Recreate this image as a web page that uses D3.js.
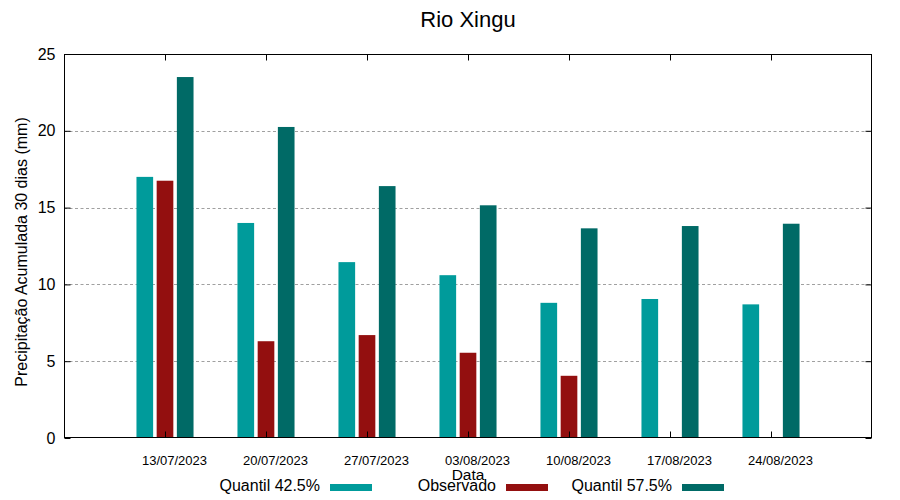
<!DOCTYPE html>
<html>
<head>
<meta charset="utf-8">
<script src="https://cdn.jsdelivr.net/npm/d3@7"></script>
<style>
  body { margin: 0; background: #fff; }
  svg { display: block; }
  text { font-family: "Liberation Sans", Arial, sans-serif; fill: #000; }
</style>
</head>
<body>
<svg id="chart" width="900" height="500"></svg>
<script>
const dates = ["13/07/2023", "20/07/2023", "27/07/2023", "03/08/2023", "10/08/2023", "17/08/2023", "24/08/2023"];
const quantil425 = [17.0, 14.0, 11.45, 10.6, 8.8, 9.05, 8.7];
const observado = [16.75, 6.3, 6.7, 5.55, 4.05, null, null];
const quantil575 = [23.5, 20.25, 16.4, 15.15, 13.65, 13.8, 13.95];
const yTicks = [0, 5, 10, 15, 20, 25];
const seriesNames = ["Quantil 42.5%", "Observado", "Quantil 57.5%"];
const seriesColors = ["#009b9b", "#930f0f", "#006a66"];

const svg = d3.select("#chart");
const L = 64, R = 872, T = 54, B = 438;

const x = d3.scaleLinear().domain([-1, 7]).range([L, R]);
const y = d3.scaleLinear().domain([0, 25]).range([B, T]);

// gridlines
svg.append("g").selectAll("line")
  .data(yTicks.filter(d => d > 0 && d < 25))
  .join("line")
  .attr("x1", L).attr("x2", R)
  .attr("y1", d => Math.round(y(d)) + 0.5).attr("y2", d => Math.round(y(d)) + 0.5)
  .attr("stroke", "#a0a0a0").attr("stroke-width", 1)
  .attr("stroke-dasharray", "3,2.5");

// bars
const series = [quantil425, observado, quantil575];
const offsets = [-0.2, 0, 0.2];
const barW = 0.165;
series.forEach((vals, si) => {
  svg.append("g").selectAll("rect")
    .data(vals.map((v, i) => ({ i, v })).filter(d => d.v != null))
    .join("rect")
    .attr("x", d => x(d.i + offsets[si] - barW / 2))
    .attr("width", x(barW) - x(0))
    .attr("y", d => y(d.v))
    .attr("height", d => y(0) - y(d.v))
    .attr("fill", seriesColors[si]);
});

// axes
const yLeft = svg.append("g").attr("transform", `translate(${L + 0.5},0)`)
  .call(d3.axisLeft(y).tickValues(yTicks).tickSize(-6).tickPadding(9));
yLeft.select(".domain").remove();
yLeft.selectAll("text").style("font-size", "16px").style("font-family", "'Liberation Sans', Arial, sans-serif");

const yRight = svg.append("g").attr("transform", `translate(${R - 0.5},0)`)
  .call(d3.axisRight(y).tickValues(yTicks).tickSize(-6).tickFormat(""));
yRight.select(".domain").remove();

const xBottom = svg.append("g").attr("transform", `translate(0,${B - 0.5})`)
  .call(d3.axisBottom(x).tickValues(d3.range(dates.length)).tickSize(-6).tickFormat(i => dates[i]));
xBottom.select(".domain").remove();
xBottom.selectAll("text")
  .attr("x", 9).attr("y", 27).attr("dy", 0)
  .style("font-size", "13px").style("font-family", "'Liberation Sans', Arial, sans-serif");

const xTop = svg.append("g").attr("transform", `translate(0,${T + 0.5})`)
  .call(d3.axisTop(x).tickValues(d3.range(dates.length)).tickSize(-6).tickFormat(""));
xTop.select(".domain").remove();

// border
svg.append("rect")
  .attr("x", L + 0.5).attr("y", T + 0.5)
  .attr("width", R - L - 1).attr("height", B - T - 1)
  .attr("fill", "none").attr("stroke", "#000").attr("stroke-width", 1);

// title
svg.append("text").attr("x", (L + R) / 2).attr("y", 27)
  .attr("text-anchor", "middle").style("font-size", "22px").text("Rio Xingu");

// y label
svg.append("text")
  .attr("transform", `translate(27,${(T + B) / 2 + 6}) rotate(-90)`)
  .attr("text-anchor", "middle").style("font-size", "16px")
  .text("Precipitação Acumulada 30 dias (mm)");

// x label
svg.append("text").attr("x", (L + R) / 2).attr("y", 480)
  .attr("text-anchor", "middle").style("font-size", "15.5px").text("Data");

// legend
const legend = svg.append("g");
seriesNames.forEach((name, i) => {
  const tx = 320 + i * 176;
  legend.append("text").attr("x", tx).attr("y", 491)
    .attr("text-anchor", "end").style("font-size", "16px").text(name);
  legend.append("rect").attr("x", tx + 10).attr("y", 484)
    .attr("width", 42).attr("height", 7).attr("fill", seriesColors[i]);
});
</script>
</body>
</html>
